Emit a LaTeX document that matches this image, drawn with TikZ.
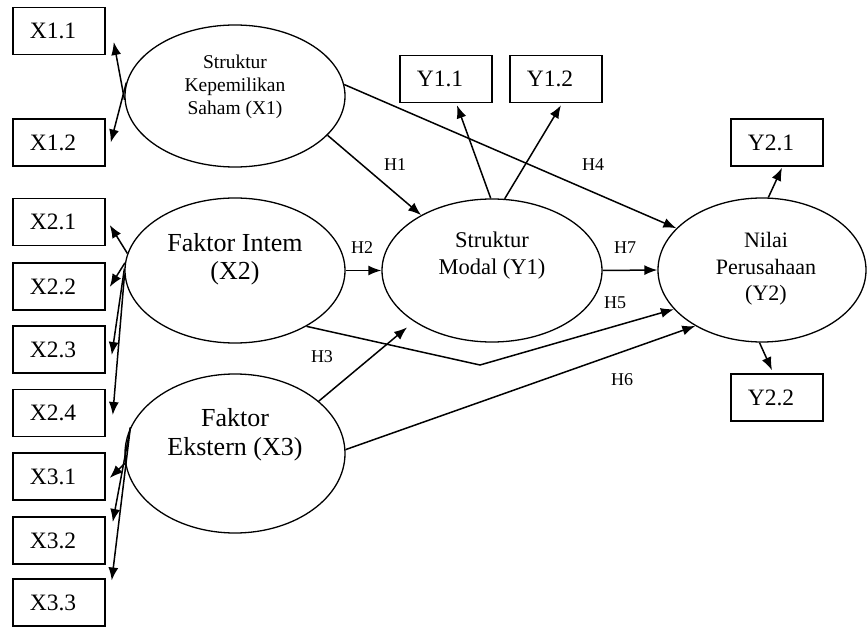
\documentclass[tikz,border=0pt]{standalone}
\usepackage{fontspec}
\setmainfont{Liberation Serif}
\usetikzlibrary{shapes.geometric,arrows.meta}

\begin{document}
\begin{tikzpicture}[x=1pt,y=-1pt,
  ind/.style={draw,line width=1.5pt,minimum width=92pt,minimum height=47pt,inner sep=0pt,
    font=\fontsize{23.5}{26}\selectfont,execute at end node={\kern12pt}},
  lat/.style={draw,ellipse,line width=1.3pt,minimum width=220pt,minimum height=144pt,inner sep=0pt},
  ltext/.style={align=center,inner sep=0pt},
  link/.style={line width=1.5pt,-{Latex[length=13pt,width=10pt]}},
  hyp/.style={font=\fontsize{18}{20}\selectfont,inner sep=0pt}]

\useasboundingbox (0,0) rectangle (868,628);

% indicator boxes
\node[ind] (x11) at (59,31) {X1.1};
\node[ind] (x12) at (59,142.5) {X1.2};
\node[ind] (x21) at (59,222) {X2.1};
\node[ind] (x22) at (59,286.5) {X2.2};
\node[ind] (x23) at (59,349.5) {X2.3};
\node[ind] (x24) at (59,413) {X2.4};
\node[ind] (x31) at (59,476.5) {X3.1};
\node[ind] (x32) at (59,540.5) {X3.2};
\node[ind] (x33) at (59,602.5) {X3.3};
\node[ind] (y11) at (446,79) {Y1.1};
\node[ind] (y12) at (556,79) {Y1.2};
\node[ind] (y21) at (777,142.5) {Y2.1};
\node[ind] (y22) at (777,397.5) {Y2.2};

% latent variables
\node[lat,minimum height=142pt] (x1) at (235,96) {};
\node[lat,minimum height=145pt] (x2) at (235,270.5) {};
\node[lat,minimum height=159pt] (x3) at (235,453.5) {};
\node[lat,minimum height=143pt] (y1) at (492,270.5) {};
\node[lat,minimum width=208pt,minimum height=144pt] (y2) at (762,270) {};

\node[ltext,font=\fontsize{19.5}{23}\selectfont] (x1t) at (235,87) {Struktur\\Kepemilikan\\Saham (X1)};
\node[ltext,font=\fontsize{26}{28}\selectfont] (x2t) at (235,259) {Faktor Intem\\(X2)};
\node[ltext,font=\fontsize{26}{29}\selectfont] (x3t) at (235,435) {Faktor\\Ekstern (X3)};
\node[ltext,font=\fontsize{22.5}{27}\selectfont] (y1t) at (492,256) {Struktur\\Modal (Y1)};
\node[ltext,font=\fontsize{22}{26.5}\selectfont] (y2t) at (766,269) {Nilai\\Perusahaan\\(Y2)};

% measurement arrows
\draw[link] (x1.182) -- ([shift={(8,11)}]x11.east);
\draw[link] (x1.173) -- ([shift={(5,0)}]x12.east);
\draw[link] (x2.171) -- ([shift={(4,3)}]x21.east);
\draw[link] (x2.176) -- ([shift={(4,0.5)}]x22.east);
\draw[link] (x2.179) -- ([shift={(6,5.5)}]x23.east);
\draw[link] (x2.182) -- ([shift={(7,2)}]x24.east);
\draw[link] (x3.185) -- ([shift={(4,1.5)}]x31.east);
\draw[link] (x3.166) -- ([shift={(7,-18.5)}]x32.east);
\draw[link] (x3.166) -- ([shift={(6,-22)}]x33.east);
\draw[link] (y1.91) -- ([shift={(11,2)}]y11.south);
\draw[link] (y1.80) -- ([shift={(5,2)}]y12.south);
\draw[link] (y2.85) -- ([shift={(5,1)}]y21.south);
\draw[link] (y2.268) -- ([shift={(-5,-3)}]y22.north);

% structural paths
\coordinate (h5bend) at (480,365);
\draw[link] (x1.-23) -- (y1.142);
\draw[link] (x1.6) -- (y2.154);
\draw[link] (x2.east) -- (y1.west);
\draw[link] (x2.-38) -- (h5bend) -- (y2.204);
\draw[link] (x3.32) -- ([shift={(-8,5)}]y1.214);
\draw[link] (x3.2) -- (y2.220);
\draw[link] (y1.east) -- (y2.west);

% hypothesis labels
\node[hyp] (h1) at (395,165) {H1};
\node[hyp] (h2) at (362,248) {H2};
\node[hyp] (h3) at (322,357) {H3};
\node[hyp] (h4) at (593,165) {H4};
\node[hyp] (h5) at (615,303) {H5};
\node[hyp] (h6) at (622,380) {H6};
\node[hyp] (h7) at (625,248) {H7};
\end{tikzpicture}
\end{document}
